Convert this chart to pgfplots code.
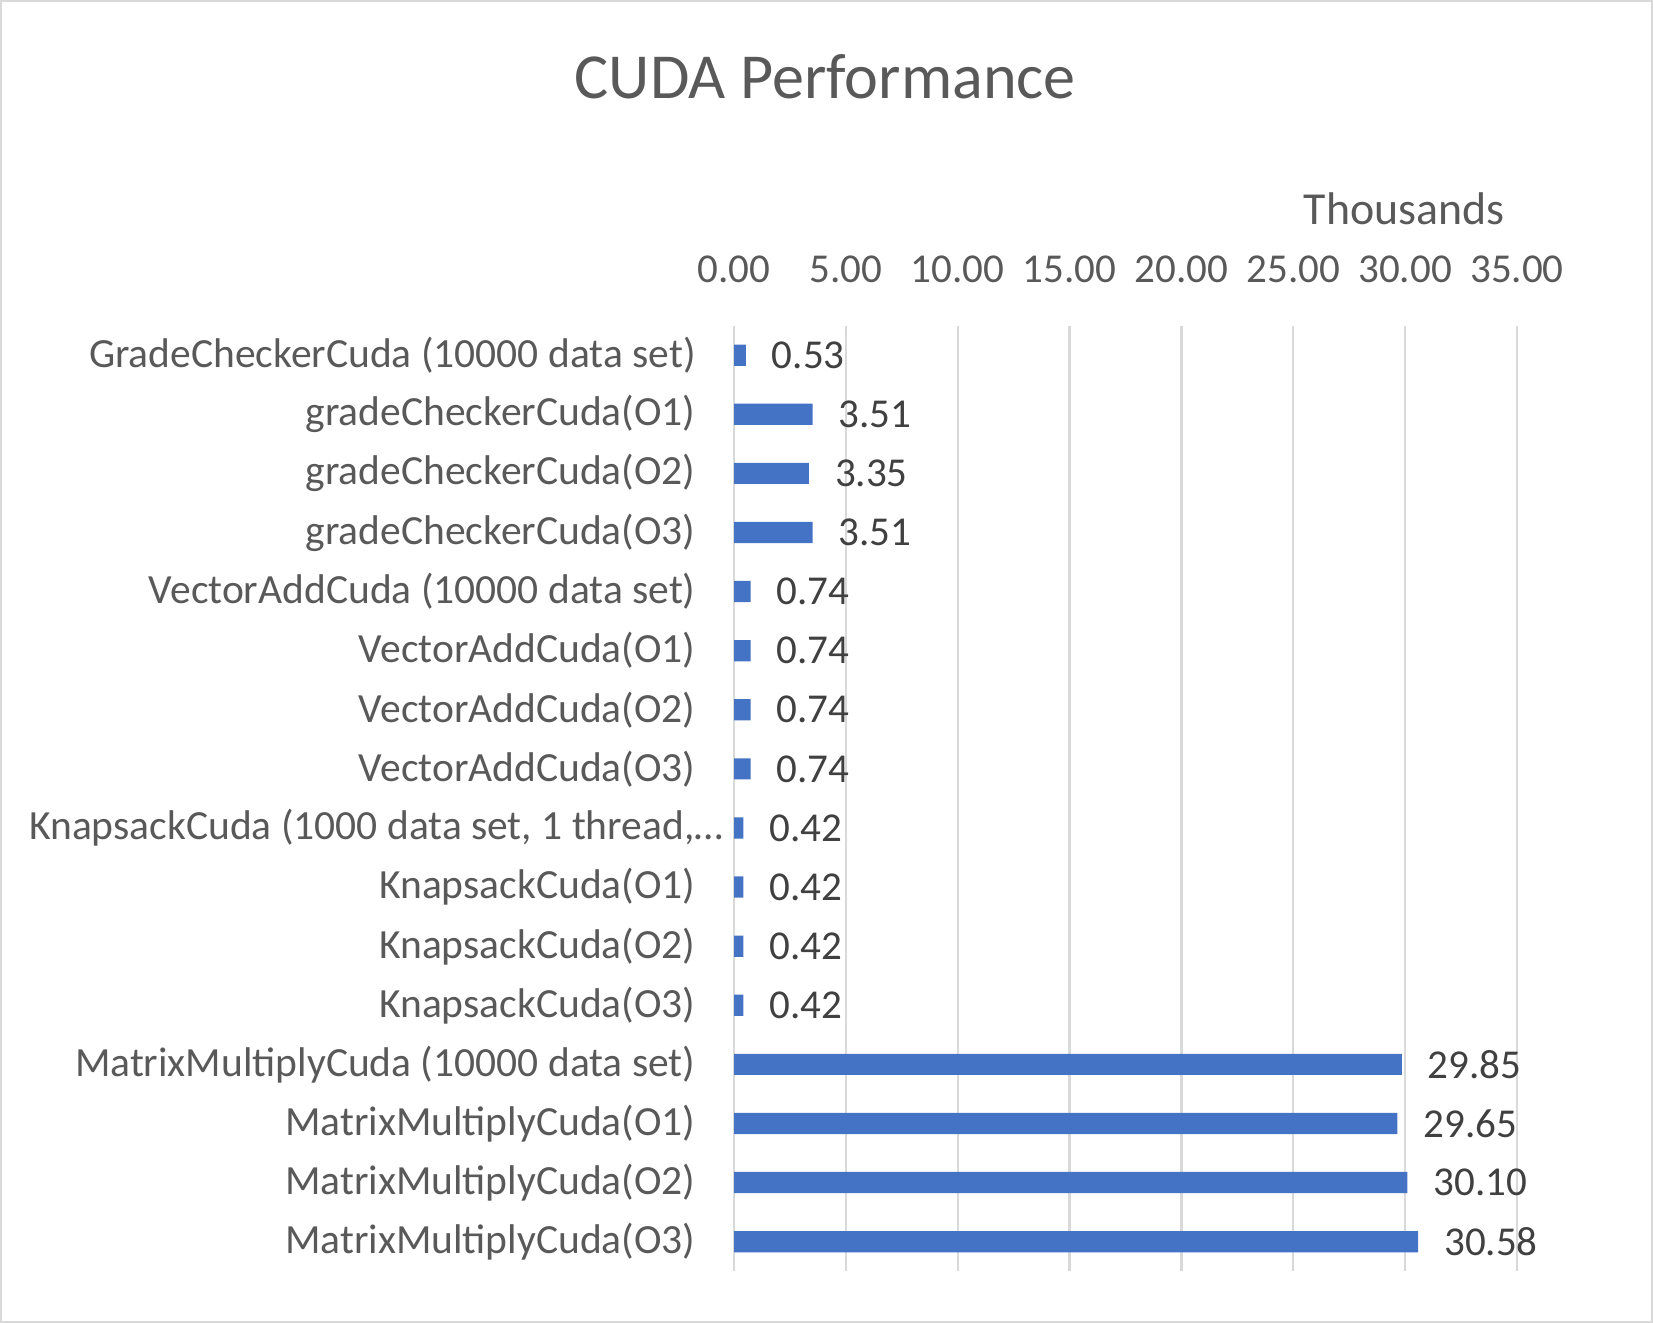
\documentclass[border=0pt]{standalone}
\usepackage{pgfplots}
\pgfplotsset{compat=1.18}
\usepackage{fontspec}
\setmainfont{Carlito}
\definecolor{barblue}{HTML}{4472C4}
\definecolor{txtgray}{HTML}{595959}
\definecolor{lblgray}{HTML}{404040}
\definecolor{gridgray}{HTML}{D9D9D9}
\begin{document}
\begin{tikzpicture}[x=1bp,y=1bp]
\useasboundingbox (0,0) rectangle (413.25,330.75);
\draw[color=gridgray, line width=0.6bp] (0.3,0.3) rectangle (412.95,330.45);
\node[text=txtgray, font=\fontsize{16.1}{19}\selectfont] at (206.3,311.5) {CUDA Performance};
\begin{axis}[
  at={(183.5bp,12.95bp)}, anchor=south west,
  width=195.75bp, height=236.4bp, scale only axis,
  xmin=0, xmax=35, ymin=-0.5, ymax=15.5, y dir=reverse,
  xbar, bar width=5.3bp,
  axis line style={draw=none},
  xmajorgrids, grid style={gridgray, line width=0.6bp},
  xtick={0,5,...,35}, xticklabel pos=upper,
  xticklabel style={/pgf/number format/fixed, /pgf/number format/zerofill, /pgf/number format/precision=2, text=txtgray, font=\fontsize{10.3}{12}\selectfont, yshift=7.2bp},
  /pgf/number format/assume math mode=true,
  ytick={0,...,15},
  yticklabels={GradeCheckerCuda (10000 data set),gradeCheckerCuda(O1),gradeCheckerCuda(O2),gradeCheckerCuda(O3),VectorAddCuda (10000 data set),VectorAddCuda(O1),VectorAddCuda(O2),VectorAddCuda(O3),{KnapsackCuda (1000 data set, 1 thread,…\kern-6.9bp},KnapsackCuda(O1),KnapsackCuda(O2),KnapsackCuda(O3),MatrixMultiplyCuda (10000 data set),MatrixMultiplyCuda(O1),MatrixMultiplyCuda(O2),MatrixMultiplyCuda(O3)},
  yticklabel style={text=txtgray, font=\fontsize{10.42}{12}\selectfont, xshift=-6.1bp},
  major tick length=0pt,
  clip=false,
  nodes near coords,
  nodes near coords style={/pgf/number format/fixed, /pgf/number format/zerofill, /pgf/number format/precision=2, /pgf/number format/assume math mode=true, text=lblgray, font=\fontsize{10.3}{12}\selectfont, anchor=west, xshift=3bp},
]
\addplot[fill=barblue, draw=none] coordinates {
(0.53,0) (3.51,1) (3.35,2) (3.51,3) (0.74,4) (0.74,5) (0.74,6) (0.74,7)
(0.42,8) (0.42,9) (0.42,10) (0.42,11) (29.85,12) (29.65,13) (30.10,14) (30.58,15)};
\end{axis}
\node[text=txtgray, font=\fontsize{11.5}{13}\selectfont] at (351,278.6) {Thousands};
\end{tikzpicture}
\end{document}
